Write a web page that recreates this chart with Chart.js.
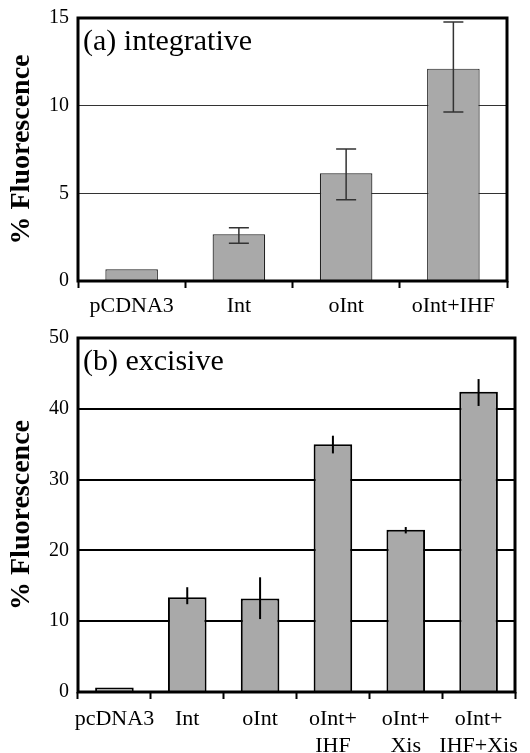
<!DOCTYPE html>
<html>
<head>
    <script src="https://cdn.jsdelivr.net/npm/chart.js"></script>
    <style>
        body { margin: 0; background: #fff; }
        .panel { position: absolute; left: 0; }
    </style>
</head>
<body>
    <div class="panel" style="top:0"><canvas id="chartA" width="530" height="322"></canvas></div>
    <div class="panel" style="top:322px"><canvas id="chartB" width="530" height="431"></canvas></div>

    <script>
        // (a) integrative
        var topLabels = ['pCDNA3', 'Int', 'oInt', 'oInt+IHF'];
        var topValues = [0.67, 2.66, 6.14, 12.11];
        var topErrHigh = [null, 3.04, 7.53, 14.77];
        var topErrLow = [null, 2.15, 4.64, 9.64];
        var topTicks = [0, 5, 10, 15];

        // (b) excisive
        var bottomLabels = ['pcDNA3', 'Int', 'oInt', ['oInt+', 'IHF'], ['oInt+', 'Xis'], ['oInt+', 'IHF+Xis']];
        var bottomValues = [0.65, 13.4, 13.2, 35.0, 22.9, 42.4];
        var bottomErrHigh = [null, 14.8, 16.2, 36.2, 23.3, 44.2];
        var bottomErrLow = [null, 12.4, 10.3, 33.7, 22.4, 40.4];
        var bottomTicks = [0, 10, 20, 30, 40, 50];

        var serif = '"Liberation Serif", "Times New Roman", serif';

        // plugin : titre dans la zone, cadre noir, barres d'erreur
        var panelPlugin = {
            id: 'panel',
            afterDatasetsDraw: function(chart, args, opts) {
                var ctx = chart.ctx;
                var area = chart.chartArea;
                var xs = chart.scales.x;
                var ys = chart.scales.y;
                ctx.save();
                // barres d'erreur
                ctx.strokeStyle = opts.errColor;
                ctx.lineWidth = opts.errWidth;
                for (var i = 0; i < opts.high.length; i++) {
                    if (opts.high[i] == null) continue;
                    var x = xs.getPixelForValue(i);
                    var y1 = ys.getPixelForValue(opts.high[i]);
                    var y2 = ys.getPixelForValue(opts.low[i]);
                    ctx.beginPath();
                    ctx.moveTo(x, y1);
                    ctx.lineTo(x, y2);
                    if (opts.cap > 0) {
                        ctx.moveTo(x - opts.cap / 2, y1);
                        ctx.lineTo(x + opts.cap / 2, y1);
                        ctx.moveTo(x - opts.cap / 2, y2);
                        ctx.lineTo(x + opts.cap / 2, y2);
                    }
                    ctx.stroke();
                }
                // cadre
                ctx.strokeStyle = '#000';
                ctx.lineWidth = opts.frame;
                ctx.strokeRect(area.left, area.top, area.right - area.left, area.bottom - area.top);
                // titre
                ctx.fillStyle = '#000';
                ctx.font = '30px ' + serif;
                ctx.textBaseline = 'alphabetic';
                ctx.textAlign = 'left';
                ctx.fillText(opts.title, area.left + 5, area.top + 32);
                ctx.restore();
            }
        };

        function makeChart(id, labels, values, ticks, high, low, cfg) {
            var ctx = document.getElementById(id).getContext('2d');
            return new Chart(ctx, {
                type: 'bar',
                data: {
                    labels: labels,
                    datasets: [{
                        data: values,
                        backgroundColor: '#a9a9a9',
                        borderColor: cfg.barBorder,
                        borderWidth: cfg.barBorderWidth,
                        borderSkipped: 'start',
                        barPercentage: cfg.barPct,
                        categoryPercentage: 1
                    }]
                },
                options: {
                    responsive: false,
                    animation: false,
                    devicePixelRatio: 1,
                    layout: { padding: { top: cfg.top, right: cfg.right, left: 0, bottom: 0 } },
                    plugins: {
                        legend: { display: false },
                        tooltip: { enabled: false },
                        panel: {
                            title: cfg.title,
                            high: high,
                            low: low,
                            cap: cfg.cap,
                            errColor: cfg.errColor,
                            errWidth: cfg.errWidth,
                            frame: cfg.frame
                        }
                    },
                    scales: {
                        x: {
                            border: { display: false },
                            grid: {
                                offset: true,
                                drawOnChartArea: false,
                                drawTicks: true,
                                tickLength: 7,
                                tickWidth: 2,
                                tickColor: '#000'
                            },
                            ticks: {
                                color: '#000',
                                padding: cfg.xPad,
                                maxRotation: 0,
                                autoSkip: false,
                                font: { family: serif, size: 22, lineHeight: 1.25 }
                            },
                            afterFit: function(scale) {
                                scale.height = cfg.xHeight;
                                scale.paddingLeft = 0;
                                scale.paddingRight = 0;
                            }
                        },
                        y: {
                            min: 0,
                            max: ticks[ticks.length - 1],
                            afterBuildTicks: function(scale) {
                                scale.ticks = ticks.map(function(v) { return { value: v }; });
                            },
                            border: { display: false },
                            grid: {
                                drawTicks: false,
                                color: cfg.gridColor,
                                lineWidth: cfg.gridWidth
                            },
                            ticks: {
                                color: '#000',
                                padding: 9,
                                font: { family: serif, size: 20 }
                            },
                            title: {
                                display: true,
                                text: '% Fluorescence',
                                color: '#000',
                                padding: { top: 5, bottom: 0 },
                                font: { family: serif, size: 28, weight: 'bold' }
                            },
                            afterFit: function(scale) {
                                scale.width = 78;
                                scale.paddingTop = 0;
                                scale.paddingBottom = 0;
                            }
                        }
                    }
                },
                plugins: [panelPlugin]
            });
        }

        makeChart('chartA', topLabels, topValues, topTicks, topErrHigh, topErrLow, {
            title: '(a) integrative', top: 18, right: 23, xHeight: 41, xPad: 4,
            barPct: 0.49, barBorder: '#222', barBorderWidth: 1.2,
            gridColor: '#333', gridWidth: 1, frame: 3,
            cap: 20, errColor: '#333', errWidth: 1.5
        });

        makeChart('chartB', bottomLabels, bottomValues, bottomTicks, bottomErrHigh, bottomErrLow, {
            title: '(b) excisive', top: 16, right: 15, xHeight: 61, xPad: 6,
            barPct: 0.53, barBorder: '#000', barBorderWidth: 2,
            gridColor: '#000', gridWidth: 2, frame: 3,
            cap: 0, errColor: '#000', errWidth: 2
        });
    </script>
</body>
</html>
